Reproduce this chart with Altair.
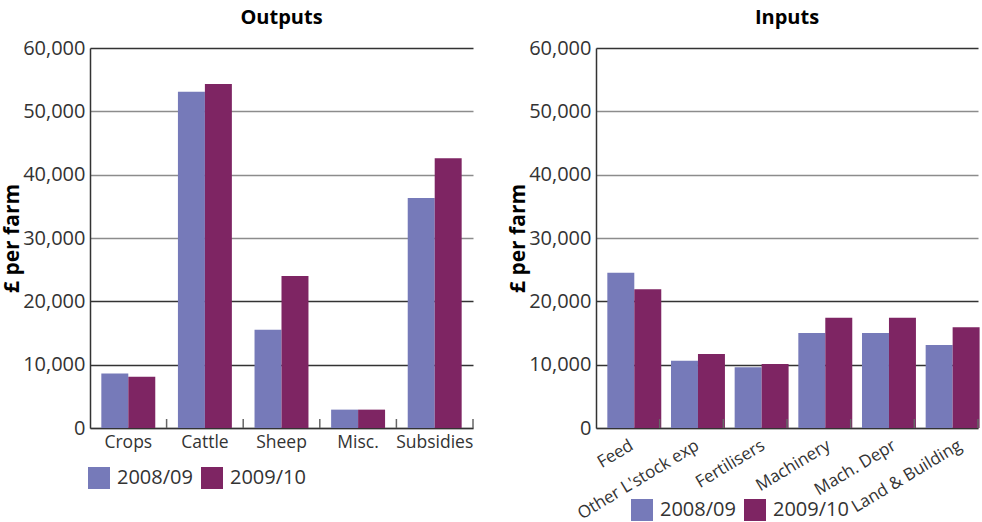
import altair as alt
import pandas as pd

# Farm business outputs and inputs, £ per farm
years = ["2008/09", "2009/10"]
year_colors = ["#767ab9", "#7e2563"]

out_cats = ["Crops", "Cattle", "Sheep", "Misc.", "Subsidies"]
out_0809 = [8600, 53100, 15500, 2900, 36300]
out_0910 = [8100, 54300, 24000, 2900, 42600]

in_cats = ["Feed", "Other L'stock exp", "Fertilisers", "Machinery", "Mach. Depr", "Land & Building"]
in_0809 = [24500, 10600, 9600, 15000, 15000, 13100]
in_0910 = [21900, 11700, 10100, 17400, 17400, 15900]

y_ticks = [0, 10000, 20000, 30000, 40000, 50000, 60000]

FONT = "Open Sans"
H = 380


def long_table(cats, a, b):
    rows = []
    for c, v1, v2 in zip(cats, a, b):
        rows.append({"category": c, "year": years[0], "value": v1})
        rows.append({"category": c, "year": years[1], "value": v2})
    return pd.DataFrame(rows)


def panel(cats, a, b, title, width, label_angle, legend_x, legend_y):
    df = long_table(cats, a, b)
    x_axis = dict(
        title=None, ticks=False, labelFontSize=17.5, labelColor="#333",
        labelFont=FONT, labelPadding=5, domainColor="#333", domainWidth=1.5,
        labelAngle=label_angle,
    )
    if label_angle != 0:
        # slanted labels drift slightly right across the axis
        shifts = [
            {"test": f"datum.value == {c!r}", "value": 2 * i}
            for i, c in enumerate(cats)
        ]
        x_axis.update(labelAlign="right", labelBaseline="top", labelPadding=9,
                      labelFontSize=17,
                      labelOffset={"condition": shifts, "value": 0})
    x_enc = alt.X("category:N", sort=cats,
                  scale=alt.Scale(paddingInner=0, paddingOuter=0),
                  axis=alt.Axis(**x_axis))
    y_enc = alt.Y(
        "value:Q",
        scale=alt.Scale(domain=[0, 60000], nice=False),
        axis=alt.Axis(
            title="£ per farm", titleFont=FONT, titleFontSize=21,
            titleFontWeight="bold", titleColor="#000", titlePadding=0,
            values=y_ticks, format=",d", ticks=False, labelFontSize=20,
            labelColor="#333", labelFont=FONT, labelPadding=5,
            domainColor="#333", domainWidth=1.5, grid=True,
            gridColor={"condition": {"test": "datum.value == 10000 || datum.value == 20000 || datum.value == 60000",
                                     "value": "#333"},
                       "value": "#8c8c8c"},
            gridWidth=1.5,
        ),
    )
    bars = alt.Chart(df).mark_bar().encode(
        x=x_enc,
        xOffset=alt.XOffset("year:N", sort=years,
                            scale=alt.Scale(paddingInner=0, paddingOuter=0.42)),
        y=y_enc,
        color=alt.Color(
            "year:N", sort=years,
            scale=alt.Scale(domain=years, range=year_colors),
            legend=alt.Legend(
                title=None, orient="none", direction="horizontal",
                legendX=legend_x, legendY=legend_y, symbolType="square",
                symbolSize=484, symbolStrokeWidth=0, symbolOpacity=1,
                labelFont=FONT, labelFontSize=20, labelColor="#333",
                labelOffset=7, columnPadding=8, padding=0,
            ),
        ),
    )
    # small separators between category groups, rising from the baseline
    seps = alt.Chart(pd.DataFrame({"category": cats})).mark_rule(
        color="#666", strokeWidth=1.5
    ).encode(
        x=alt.X("category:N", sort=cats, bandPosition=1),
        y=alt.value(H - 9),
        y2=alt.value(H),
    )
    return alt.layer(bars, seps).properties(
        width=width, height=H,
        title=alt.TitleParams(title, font=FONT, fontSize=20, fontWeight="bold",
                              color="#000", offset=10),
    )


left = panel(out_cats, out_0809, out_0910, "Outputs", 383, 0, -2, 419)
right = panel(in_cats, in_0809, in_0910, "Inputs", 382, -31, 35, 451)

chart = alt.hconcat(left, right, spacing=33).resolve_legend(
    color="independent"
).properties(
    padding={"left": 1, "top": 8, "right": 0, "bottom": 0}
).configure_view(stroke=None)

chart.save("out.html", embed_options={"renderer": "svg", "actions": False})
